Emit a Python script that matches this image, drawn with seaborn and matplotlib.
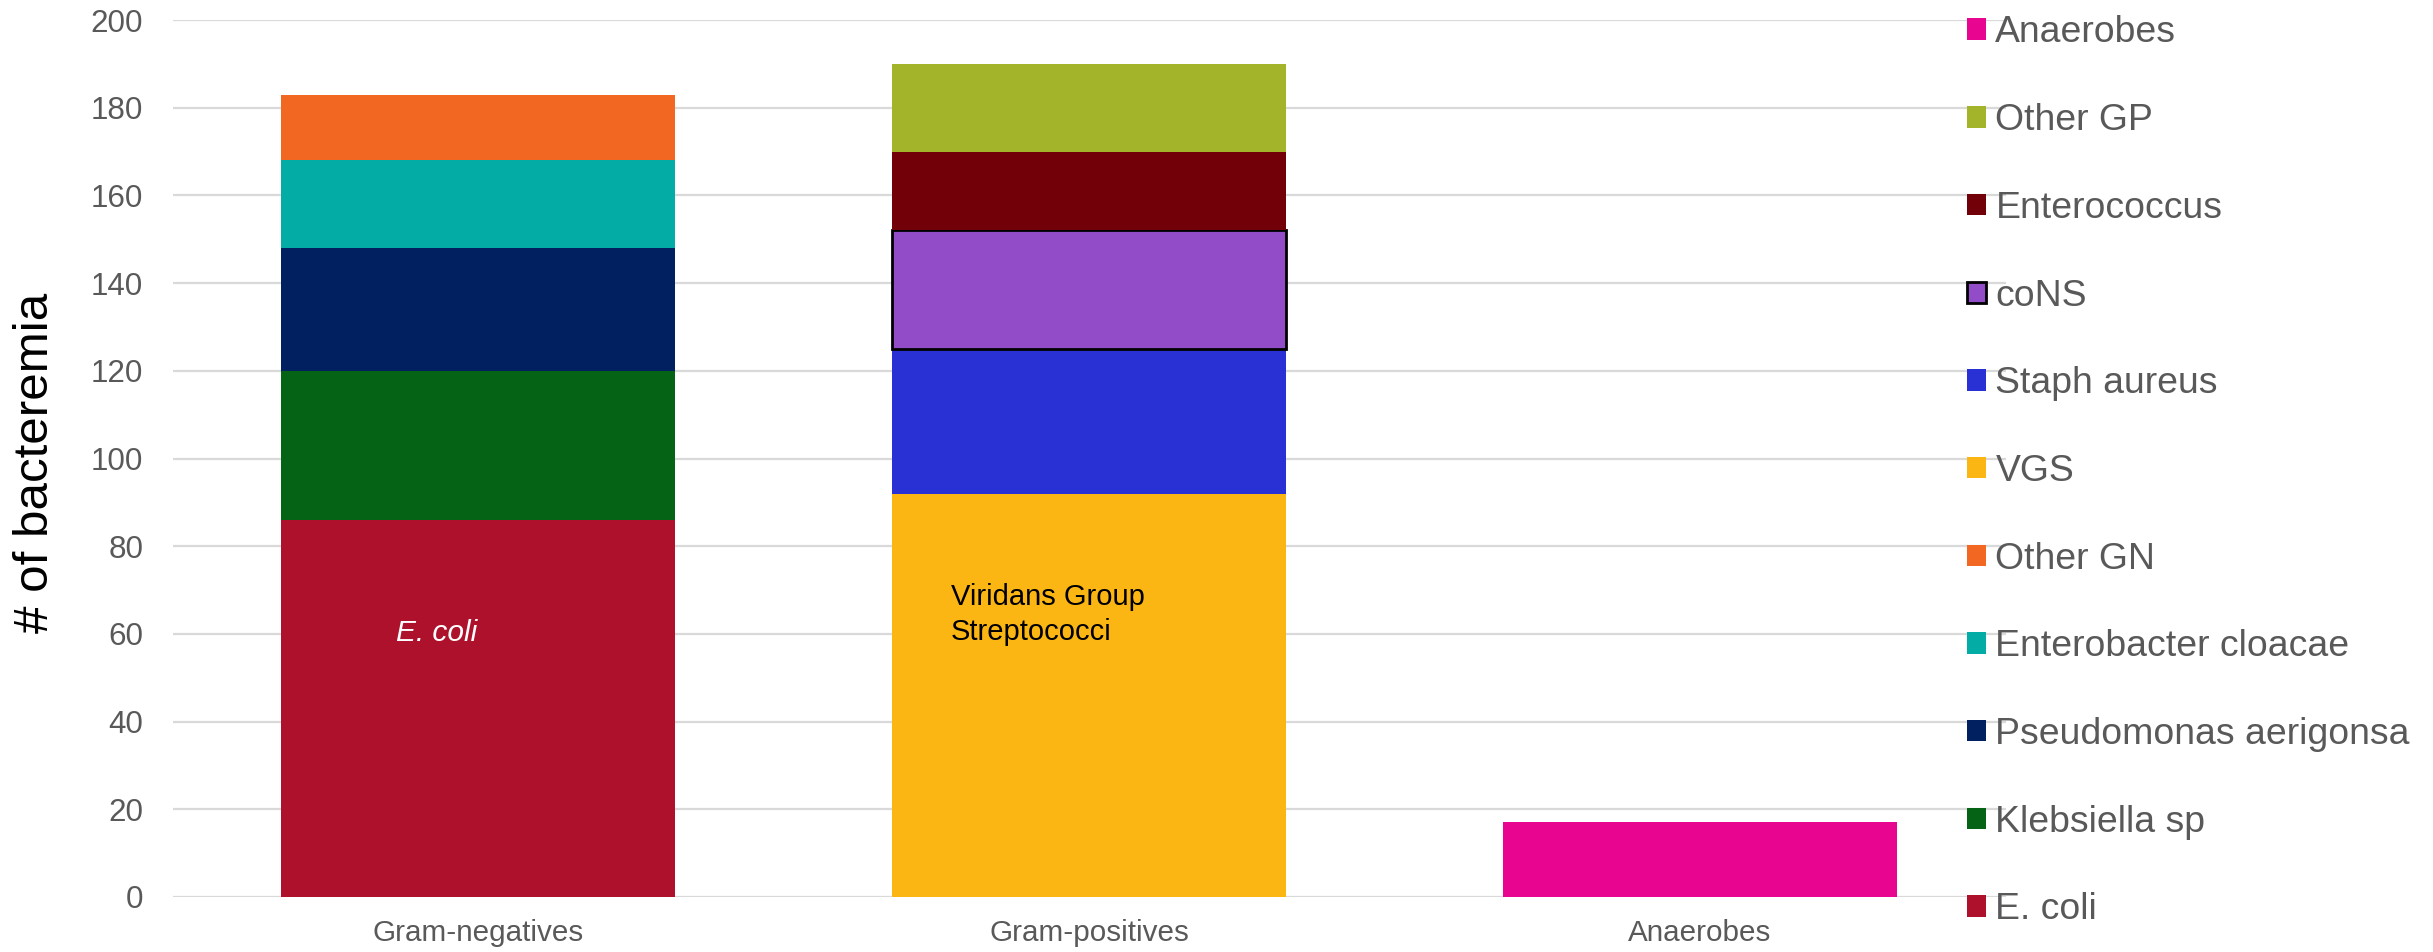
import matplotlib
matplotlib.use("Agg")
import matplotlib.pyplot as plt
from matplotlib.patches import Patch
import seaborn as sns
import pandas as pd

# ---- data ----
groups = ["Gram-negatives", "Gram-positives", "Anaerobes"]
gn_species = ["E. coli", "Klebsiella sp", "Pseudomonas aerigonsa", "Enterobacter cloacae", "Other GN"]
gn_counts = [86, 34, 28, 20, 15]
gp_species = ["VGS", "Staph aureus", "coNS", "Enterococcus", "Other GP"]
gp_counts = [92, 33, 27, 18, 20]
an_species = ["Anaerobes"]
an_counts = [17]
yticks = [0, 20, 40, 60, 80, 100, 120, 140, 160, 180, 200]
legend_order = ["Anaerobes", "Other GP", "Enterococcus", "coNS", "Staph aureus", "VGS",
                "Other GN", "Enterobacter cloacae", "Pseudomonas aerigonsa", "Klebsiella sp", "E. coli"]

colors = {
    "E. coli": "#AE112B",
    "Klebsiella sp": "#046314",
    "Pseudomonas aerigonsa": "#00205F",
    "Enterobacter cloacae": "#03ADA5",
    "Other GN": "#F26722",
    "VGS": "#FBB614",
    "Staph aureus": "#2A31D4",
    "coNS": "#924CC8",
    "Enterococcus": "#720009",
    "Other GP": "#A3B42A",
    "Anaerobes": "#E8058F",
}

rows = []
for g, sp_list, cnts in [(groups[0], gn_species, gn_counts),
                         (groups[1], gp_species, gp_counts),
                         (groups[2], an_species, an_counts)]:
    base = 0
    for s, c in zip(sp_list, cnts):
        rows.append({"group": g, "species": s, "count": c, "bottom": base})
        base += c
df = pd.DataFrame(rows)

sns.set_theme(style="white")
plt.rcParams["font.family"] = ["Liberation Sans", "DejaVu Sans"]

fig = plt.figure(figsize=(24.33, 9.52), dpi=100)
ax = fig.add_axes([172.5 / 2433, 1 - 897 / 952, 1833 / 2433, 877 / 952])
ax.set_axisbelow(True)

for _, r in df.iterrows():
    sub = df[(df["group"] == r["group"]) & (df["species"] == r["species"])]
    outlined = r["species"] == "coNS"
    sns.barplot(data=sub, x="group", y="count", order=groups, ax=ax,
                color=colors[r["species"]], saturation=1, width=0.646,
                bottom=r["bottom"], errorbar=None,
                edgecolor="black" if outlined else "none",
                linewidth=2.0 if outlined else 0)

ax.set_xlim(-0.5, 2.5)
ax.set_ylim(0, 200)
ax.set_yticks(yticks)
ax.yaxis.grid(True, color="#d9d9d9", linewidth=1.6)
ax.xaxis.grid(False)
for sp in ax.spines.values():
    sp.set_visible(False)
ax.tick_params(axis="y", length=0, pad=21, labelsize=22.6, labelcolor="#595959")
ax.tick_params(axis="x", length=0, pad=16, labelsize=21.3, labelcolor="#595959")
ax.set_xlabel("")
ax.set_ylabel("# of bacteremia", fontsize=35.5, color="black", ha="center", va="center")
ax.yaxis.set_label_coords((36 - 172.5) / 1833, (897 - 463) / 877)

ax.text(-0.134, 58.4, "E. coli", color="white", fontsize=21.5, style="italic",
        ha="left", va="baseline")
ax.text(0.774, 58.6, "Viridans Group\nStreptococci", color="black", fontsize=21,
        ha="left", va="baseline", linespacing=1.31)

handles = [Patch(facecolor=colors[s], edgecolor="black" if s == "coNS" else "none",
                 linewidth=2.0 if s == "coNS" else 0) for s in legend_order]
leg = ax.legend(handles, legend_order, loc="upper left",
                bbox_to_anchor=(1967 / 2433, 1 - 15.5 / 952), bbox_transform=fig.transFigure,
                frameon=False, fontsize=26.9, labelcolor="#595959",
                borderpad=0, borderaxespad=0, handlelength=0.51, handleheight=0.51,
                handletextpad=0.25, labelspacing=1.41)

fig.savefig("out.png", dpi=100, facecolor="white")
